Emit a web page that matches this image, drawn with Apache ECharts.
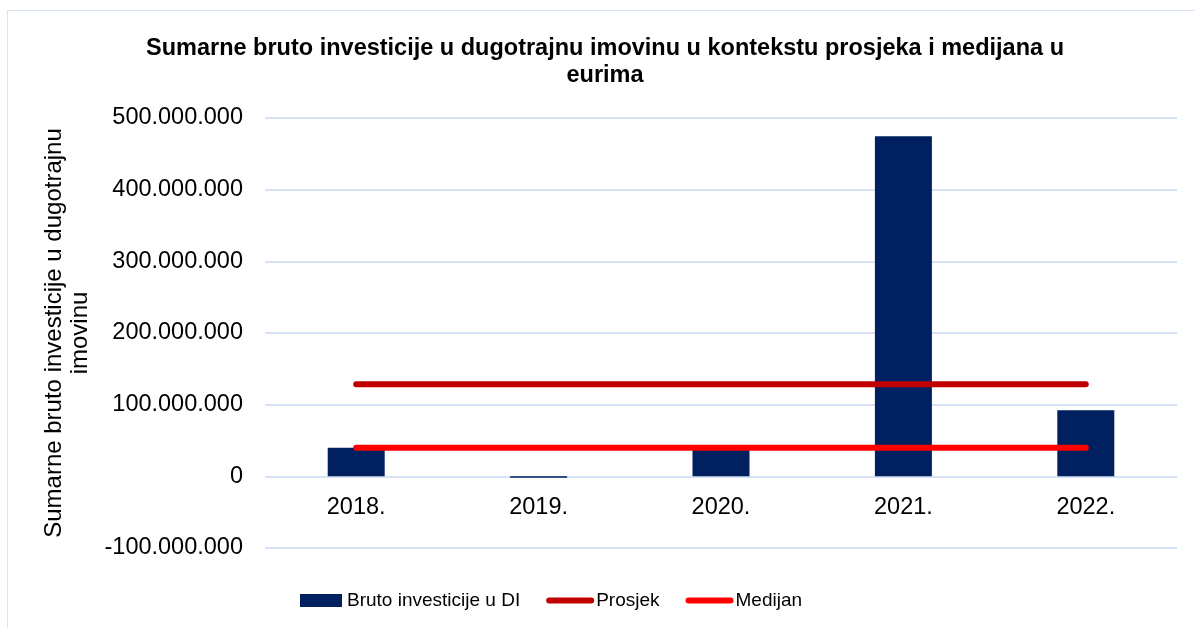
<!DOCTYPE html>
<html>
<head>
<meta charset="utf-8">
<script src="https://cdn.jsdelivr.net/npm/echarts@6/dist/echarts.min.js"></script>
<style>
  html, body { margin: 0; padding: 0; background: #ffffff; }
  .frame {
    position: absolute;
    left: 7px;
    top: 10px;
    width: 1300px;
    height: 700px;
    border: 1px solid #d6e3f5;
  }
  #main { position: absolute; left: 0; top: 0; width: 1195px; height: 628px; }
</style>
</head>
<body>
<div class="frame"></div>
<div id="main"></div>
<script>
// podaci
var years = ["2018.", "2019.", "2020.", "2021.", "2022."];
var brutoInvesticije = [40000000, -2000000, 37000000, 474600000, 92300000];
var prosjek = [128500000, 128500000, 128500000, 128500000, 128500000];
var medijan = [40000000, 40000000, 40000000, 40000000, 40000000];
var yTicks = [-100000000, 0, 100000000, 200000000, 300000000, 400000000, 500000000];

function formatBroj(v) {
  var s = Math.abs(v).toString().replace(/\B(?=(\d{3})+(?!\d))/g, ".");
  return (v < 0 ? "-" : "") + s;
}

var skriveniSimbol = { color: "rgba(0,0,0,0)", borderWidth: 0, opacity: 0 };

var myChart = echarts.init(document.getElementById("main"));
myChart.setOption({
  animation: false,
  title: {
    text: "Sumarne bruto investicije u dugotrajnu imovinu u kontekstu prosjeka i medijana u\neurima",
    left: 600,
    textAlign: "center",
    top: 30,
    textStyle: {
      fontFamily: "Liberation Sans",
      fontSize: 23.5,
      fontWeight: "bold",
      color: "#000000",
      lineHeight: 27
    }
  },
  legend: {
    left: 295,
    top: 586,
    itemGap: 26,
    itemWidth: 42,
    itemHeight: 13,
    textStyle: { fontFamily: "Liberation Sans", fontSize: 19, color: "#000000" },
    data: [
      { name: "Bruto investicije u DI", icon: "rect" },
      { name: "Prosjek", itemStyle: skriveniSimbol, lineStyle: { width: 6, cap: "round" } },
      { name: "Medijan", itemStyle: skriveniSimbol, lineStyle: { width: 6, cap: "round" } }
    ]
  },
  grid: { left: 265, right: 18, top: 118, bottom: 80, containLabel: false },
  xAxis: {
    type: "category",
    data: years,
    offset: -72,
    axisLine: { show: false, onZero: false },
    axisTick: { show: false },
    axisLabel: { margin: 20, fontFamily: "Liberation Sans", fontSize: 23.5, color: "#000000" }
  },
  yAxis: {
    type: "value",
    min: yTicks[0],
    max: yTicks[yTicks.length - 1],
    interval: 100000000,
    name: "Sumarne bruto investicije u dugotrajnu\nimovinu",
    nameLocation: "middle",
    nameGap: 172,
    nameTextStyle: { fontFamily: "Liberation Sans", fontSize: 24, color: "#000000", lineHeight: 26 },
    axisLine: { show: false },
    axisTick: { show: false },
    splitLine: { lineStyle: { color: "#d6e3f5", width: 2 } },
    axisLabel: {
      margin: 22,
      fontFamily: "Liberation Sans",
      fontSize: 23.5,
      color: "#000000",
      formatter: formatBroj
    }
  },
  series: [
    {
      name: "Bruto investicije u DI",
      type: "bar",
      barWidth: 57,
      data: brutoInvesticije,
      itemStyle: { color: "#002060" },
      z: 2
    },
    {
      name: "Prosjek",
      type: "line",
      data: prosjek,
      symbol: "none",
      lineStyle: { color: "#c00000", width: 6, cap: "round" },
      itemStyle: { color: "#c00000" },
      z: 3
    },
    {
      name: "Medijan",
      type: "line",
      data: medijan,
      symbol: "none",
      lineStyle: { color: "#ff0000", width: 6, cap: "round" },
      itemStyle: { color: "#ff0000" },
      z: 3
    }
  ]
});
</script>
</body>
</html>
